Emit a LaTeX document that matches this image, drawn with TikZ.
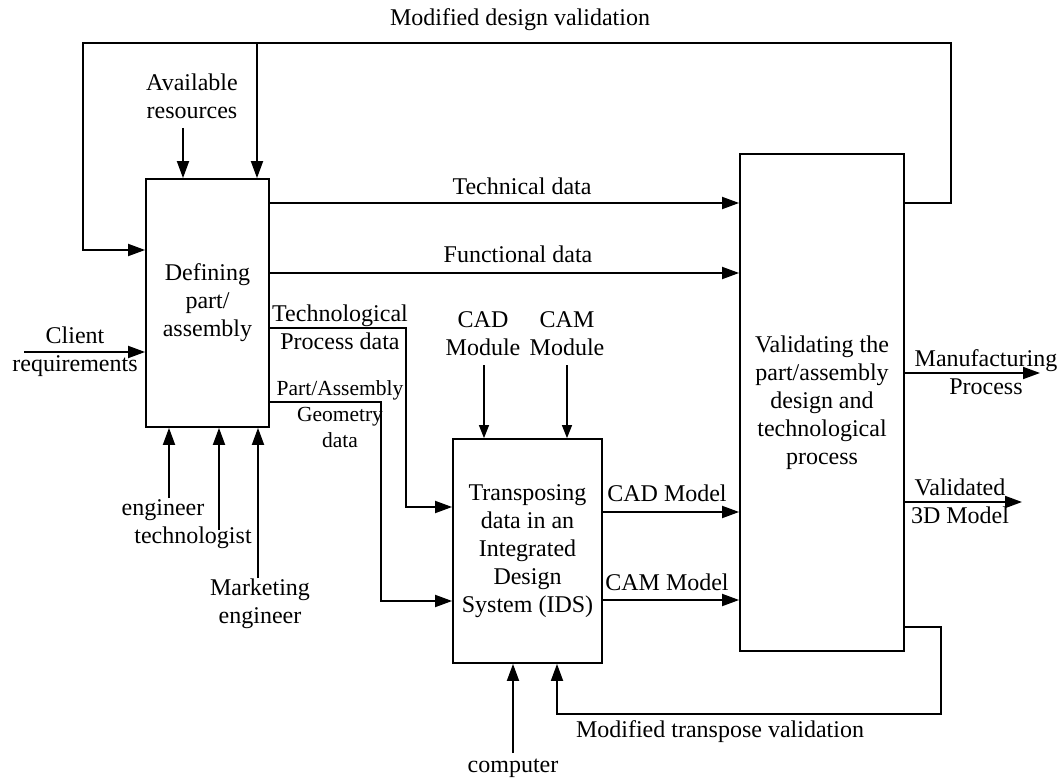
\documentclass[tikz,border=0pt]{standalone}
\usepackage{fontspec}
\setmainfont{Liberation Serif}
\usetikzlibrary{arrows.meta}
\begin{document}
\begin{tikzpicture}[x=1pt,y=-1pt,
  font=\fontsize{24}{28}\selectfont,
  box/.style={draw,line width=1.8pt,align=center,inner sep=0pt},
  lbl/.style={align=center,inner sep=0pt},
  small/.style={align=center,inner sep=0pt,font=\fontsize{21.5}{26}\selectfont},
  ln/.style={line width=1.8pt},
  arr/.style={line width=1.8pt,-{Triangle[length=17pt,width=12pt]}},
  thinarr/.style={line width=1.2pt,-{Triangle[length=13pt,width=10pt]}}]
\useasboundingbox (0,0) rectangle (1061,778);
% boxes
\node[box,minimum width=123pt,minimum height=248pt] (A) at (207.5,303) {Defining\\part/\\assembly};
\node[box,minimum width=149pt,minimum height=224pt] (B) at (527.5,551) {Transposing\\data in an\\Integrated\\Design\\System (IDS)};
\node[box,minimum width=164pt,minimum height=497pt] (C) at (822,402.5) {Validating the\\part/assembly\\design and\\technological\\process};
% top feedback loop
\draw[arr] (C.east |- 0,203) -- (951,203) -- (951,43) -- (83,43) -- (83,250) -- (A.west |- 0,250);
\draw[arr] (257,43) -- (A.north -| 257,0);
\node[lbl] (mdv) at (520,20) {Modified design validation};
% available resources
\node[lbl] (avl) at (192,96) {Available\\resources};
\draw[arr] (183,128) -- (A.north -| 183,0);
% technical / functional
\draw[arr] (A.east |- 0,203) -- (C.west |- 0,203);
\node[lbl] (tech) at (522,186) {Technical data};
\draw[arr] (A.east |- 0,273) -- (C.west |- 0,273);
\node[lbl] (func) at (518,254) {Functional data};
% technological process data
\draw[arr] (A.east |- 0,328) -- (406,328) -- (406,507) -- (B.west |- 0,507);
\node[lbl] (tpd) at (340,327) {Technological\\Process data};
% geometry data
\draw[arr] (A.east |- 0,402) -- (381,402) -- (381,601) -- (B.west |- 0,601);
\node[small] (geo) at (340,414) {Part/Assembly\\Geometry\\data};
% client requirements
\node[lbl] (cli) at (75,352) {Client\\requirements};
\draw[arr] (24,352) -- (A.west |- 0,352);
% bottom inputs of A
\node[lbl] (eng) at (163,510) {engineer};
\draw[arr] (169,498) -- (A.south -| 169,0);
\node[lbl] (tec) at (193,538) {technologist};
\draw[arr] (219,530) -- (A.south -| 219,0);
\node[lbl] (mkt) at (260,604) {Marketing\\engineer};
\draw[arr] (258,578) -- (A.south -| 258,0);
% modules
\node[lbl] (cadm) at (483,334) {CAD\\Module};
\draw[thinarr] (484,365) -- (B.north -| 484,0);
\node[lbl] (camm) at (567,334) {CAM\\Module};
\draw[thinarr] (567,365) -- (B.north -| 567,0);
% models
\draw[arr] (B.east |- 0,512) -- (C.west |- 0,512);
\node[lbl] (cadmod) at (667,493) {CAD Model};
\draw[arr] (B.east |- 0,600) -- (C.west |- 0,600);
\node[lbl] (cammod) at (667,582) {CAM Model};
% computer
\node[lbl] (comp) at (513,768) {computer};
\draw[arr] (513,753) -- (B.south -| 513,0);
% transpose validation loop
\draw[arr] (C.east |- 0,627) -- (941,627) -- (941,714) -- (557,714) -- (B.south -| 557,0);
\node[lbl] (mtv) at (720,732) {Modified transpose validation};
% outputs
\draw[arr] (C.east |- 0,373) -- (1040,373);
\node[lbl] (mfg) at (986,372) {Manufacturing\\Process};
\draw[arr] (C.east |- 0,502) -- (1022,502);
\node[lbl] (val) at (960,501) {Validated\\3D Model};
\end{tikzpicture}
\end{document}
